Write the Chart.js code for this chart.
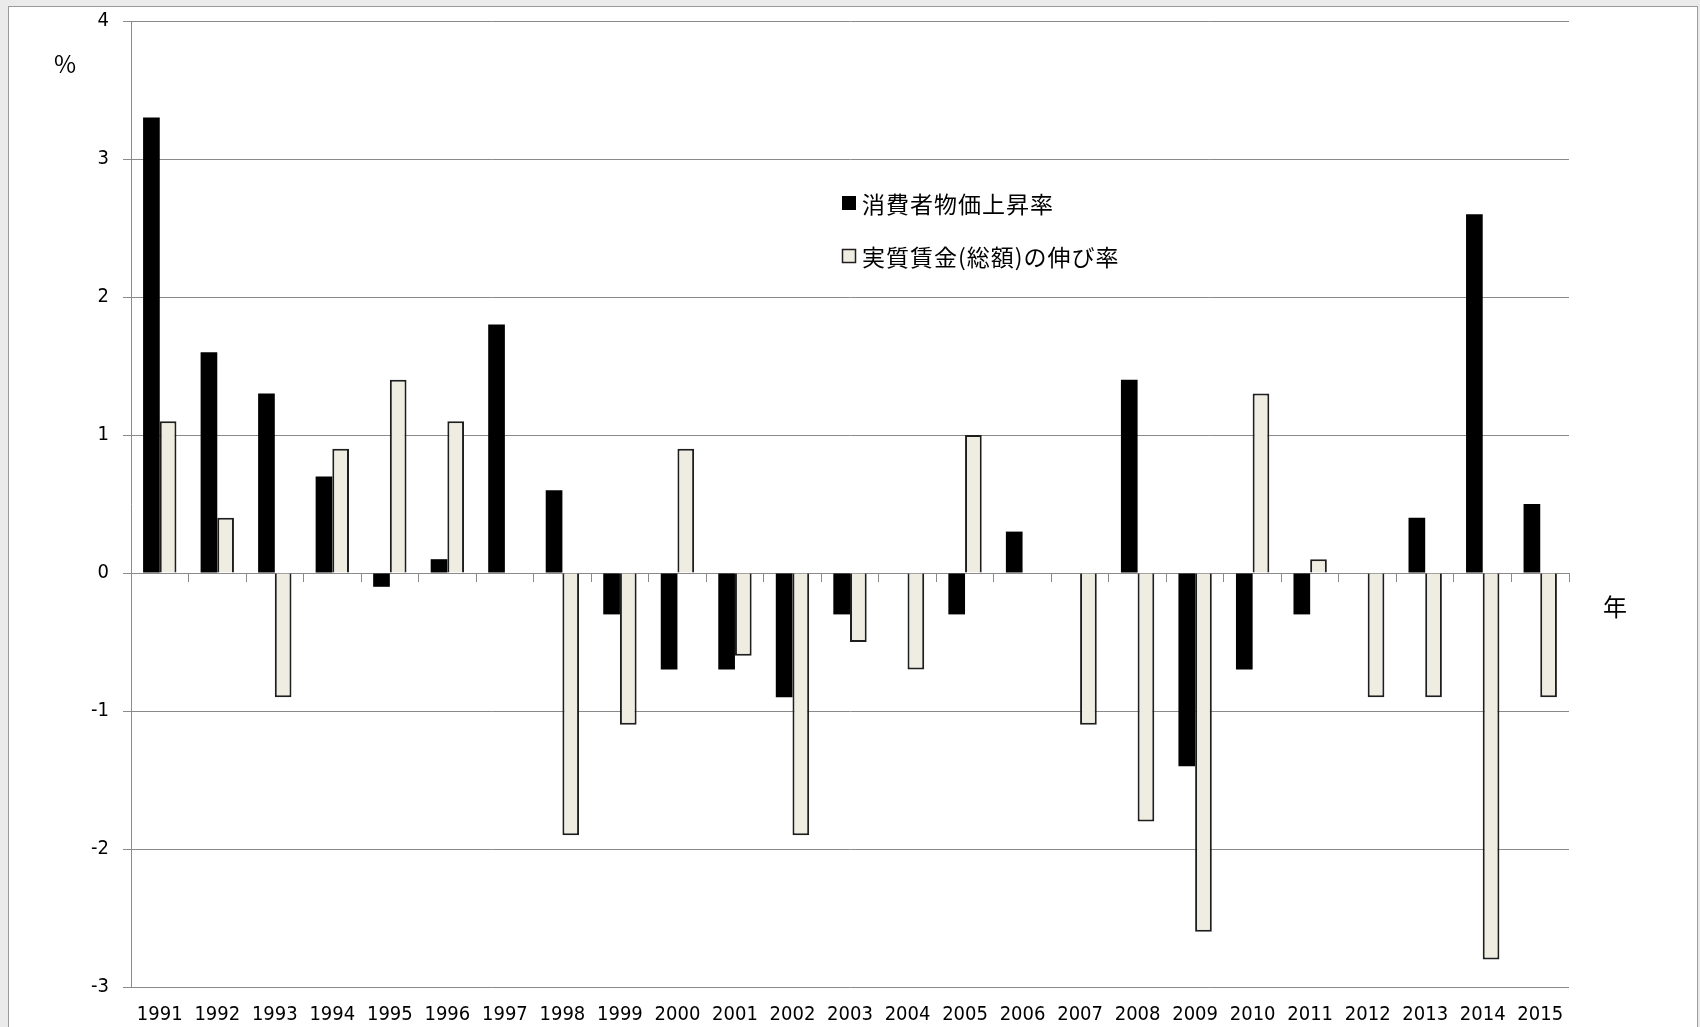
<!DOCTYPE html>
<html>
<head>
<meta charset="utf-8">
<script src="https://cdn.jsdelivr.net/npm/chart.js@4/dist/chart.umd.min.js"></script>
<style>
  html, body { margin: 0; padding: 0; background: #ebebeb; }
  #wrap { position: relative; width: 1700px; height: 1027px; overflow: hidden; }
  #frame { position: absolute; left: 8px; top: 6px; width: 1690px; height: 1040px;
           background: #fff; border: 1px solid #9a9a9a; box-sizing: border-box; }
  #chart { position: absolute; left: 0; top: 0; }
</style>
</head>
<body>
<div id="wrap">
  <div id="frame"></div>
  <canvas id="chart" width="1700" height="1027"></canvas>
</div>
<script>
// 年次データ
const years = ['1991', '1992', '1993', '1994', '1995', '1996', '1997', '1998', '1999', '2000',
               '2001', '2002', '2003', '2004', '2005', '2006', '2007', '2008', '2009', '2010',
               '2011', '2012', '2013', '2014', '2015'];
// 消費者物価上昇率 (%)
const cpiRate = [3.3, 1.6, 1.3, 0.7, -0.1, 0.1, 1.8, 0.6, -0.3, -0.7,
                 -0.7, -0.9, -0.3, 0, -0.3, 0.3, 0, 1.4, -1.4, -0.7,
                 -0.3, 0, 0.4, 2.6, 0.5];
// 実質賃金(総額)の伸び率 (%)
const wageRate = [1.1, 0.4, -0.9, 0.9, 1.4, 1.1, 0, -1.9, -1.1, 0.9,
                  -0.6, -1.9, -0.5, -0.7, 1.0, 0, -1.1, -1.8, -2.6, 1.3,
                  0.1, -0.9, -0.9, -2.8, -0.9];
const yMin = -3;
const yMax = 4;

const axisFont = { family: '"DejaVu Sans Condensed", "DejaVu Sans", sans-serif', size: 20 };
const jpFont = '"Noto Sans CJK JP", sans-serif';
const gridColor = '#8a8a8a';

// 凡例と単位ラベルをプロット内に描く
const overlayText = {
  id: 'overlayText',
  afterDraw(chart) {
    const ctx = chart.ctx;
    ctx.save();
    ctx.textBaseline = 'middle';
    ctx.fillStyle = '#000';
    ctx.font = '24px ' + jpFont;
    ctx.textAlign = 'center';
    ctx.fillText('%', 65, 64);
    ctx.fillText('年', 1615, 607);

    ctx.textAlign = 'left';
    ctx.font = '23px ' + jpFont;
    ctx.letterSpacing = '1px';
    const rows = [203, 256];
    chart.data.datasets.forEach((ds, i) => {
      const y = rows[i];
      ctx.fillStyle = ds.backgroundColor;
      ctx.fillRect(842, y - 7, 14, 14);
      if (ds.borderWidth) {
        ctx.strokeStyle = ds.borderColor;
        ctx.lineWidth = 1.5;
        ctx.strokeRect(842.5, y - 6.5, 13, 13);
      }
      ctx.fillStyle = '#000';
      ctx.fillText(ds.label, 862, y + 1);
    });
    ctx.restore();
  }
};

new Chart(document.getElementById('chart'), {
  type: 'bar',
  data: {
    labels: years,
    datasets: [
      {
        label: '消費者物価上昇率',
        data: cpiRate,
        backgroundColor: '#000000',
        borderWidth: 0,
        categoryPercentage: 0.58,
        barPercentage: 1.0
      },
      {
        label: '実質賃金(総額)の伸び率',
        data: wageRate,
        backgroundColor: '#efece1',
        borderColor: '#1e1e1e',
        borderWidth: 2,
        categoryPercentage: 0.58,
        barPercentage: 1.0
      }
    ]
  },
  options: {
    responsive: false,
    animation: false,
    devicePixelRatio: 1,
    layout: { padding: { left: 0, right: 131, top: 21, bottom: 0 } },
    plugins: {
      legend: { display: false },
      tooltip: { enabled: false }
    },
    scales: {
      x: {
        position: 'bottom',
        grid: { display: false },
        border: { display: false },
        ticks: { font: axisFont, color: '#000', maxRotation: 0, autoSkip: false, padding: 8 },
        afterFit(scale) { scale.height = 40; }
      },
      // 0 の位置に描く横軸(目盛り線のみ)
      x2: {
        type: 'category',
        position: { y: 0 },
        offset: true,
        grid: { offset: true, drawOnChartArea: false, drawTicks: true, tickLength: 8, color: gridColor },
        border: { display: true, color: gridColor, width: 1 },
        ticks: { display: false }
      },
      y: {
        min: yMin,
        max: yMax,
        ticks: { stepSize: 1, font: axisFont, color: '#000', padding: 14 },
        grid: { color: gridColor, tickLength: 8 },
        border: { color: gridColor },
        afterFit(scale) {
          scale.width = 131;
          scale.paddingTop = 0;
          scale.paddingBottom = 0;
        }
      }
    }
  },
  plugins: [overlayText]
});
</script>
</body>
</html>
